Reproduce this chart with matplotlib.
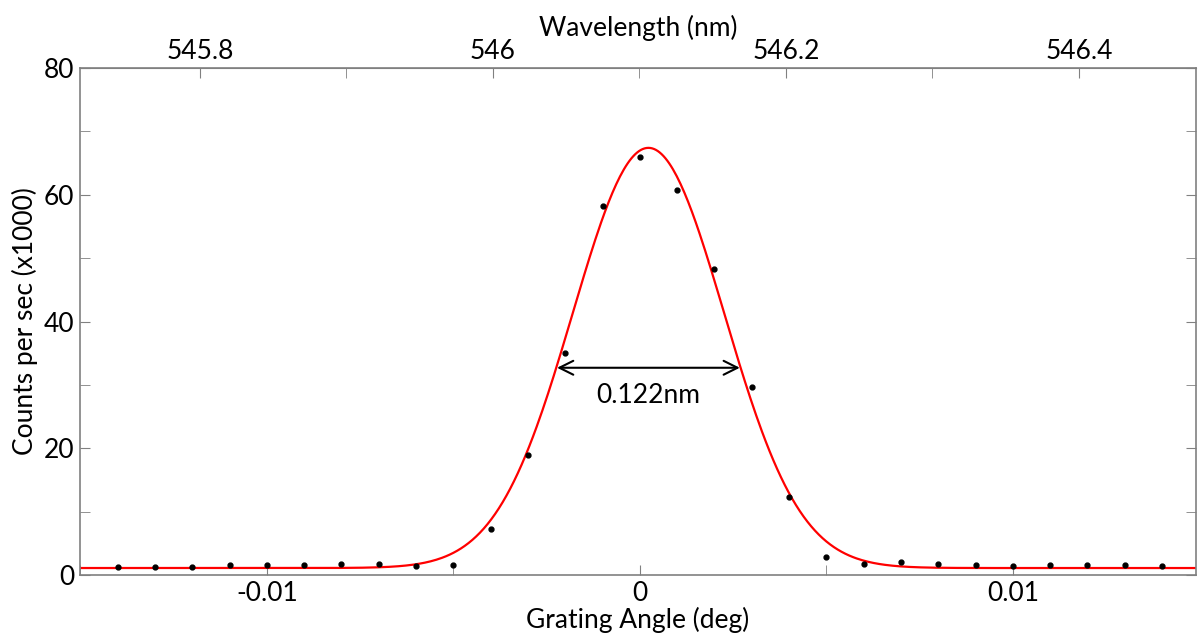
import numpy as np
import matplotlib
matplotlib.use("Agg")
import matplotlib.pyplot as plt
from matplotlib.ticker import FixedLocator, FixedFormatter

# ======================
# data
# ======================
angle = [-0.014, -0.013, -0.012, -0.011, -0.010, -0.009, -0.008, -0.007, -0.006, -0.005,
         -0.004, -0.003, -0.002, -0.001, 0.000, 0.001, 0.002, 0.003, 0.004, 0.005,
         0.006, 0.007, 0.008, 0.009, 0.010, 0.011, 0.012, 0.013, 0.014]
counts = [1.2, 1.2, 1.2, 1.6, 1.6, 1.6, 1.8, 1.8, 1.4, 1.6,
          7.3, 18.9, 35.0, 58.2, 66.0, 60.7, 48.3, 29.7, 12.3, 2.9,
          1.8, 2.0, 1.8, 1.6, 1.4, 1.6, 1.6, 1.6, 1.4]

# gaussian fit parameters
fit_base = 1.1
fit_amp = 66.3
fit_center = 0.00023
fit_sigma = 0.00203

# angle -> wavelength conversion
lambda0 = 546.1003
nm_per_deg = 25.46

x_ticks = [-0.01, 0.0, 0.01]
x_ticklabels = ['-0.01', '0', '0.01']
x_minor = [-0.015, -0.005, 0.005]
y_ticks = [0, 20, 40, 60, 80]
y_minor = [10, 30, 50, 70]
wl_ticks = [545.8, 546.0, 546.2, 546.4]
wl_ticklabels = ['545.8', '546', '546.2', '546.4']
wl_minor = [545.9, 546.1, 546.3]

fwhm_label = "0.122nm"
fwhm_x = [-0.00222, 0.00268]
fwhm_y = 32.7

# ======================
# plot
# ======================
plt.rcParams['font.family'] = ['Lato', 'DejaVu Sans']
fs = 19
tick_col = '#808080'

fig = plt.figure(figsize=(11.98, 6.44), dpi=100)
ax = fig.add_axes([80 / 1198, 1 - 575 / 644, 1116 / 1198, 507 / 644])

xs = np.linspace(-0.0152, 0.0152, 600)
fit = fit_base + fit_amp * np.exp(-(xs - fit_center) ** 2 / (2 * fit_sigma ** 2))
ax.plot(xs, fit, color='#ff0000', lw=1.6, zorder=2)
ax.plot(angle, counts, 'o', color='black', ms=3.5, zorder=3)

ax.annotate('', xy=(fwhm_x[0], fwhm_y), xytext=(fwhm_x[1], fwhm_y),
            arrowprops=dict(arrowstyle='<->,head_length=1.0,head_width=0.5',
                            color='black', lw=1.5, shrinkA=0, shrinkB=0))
ax.text(np.mean(fwhm_x), fwhm_y - 4.3, fwhm_label, ha='center', va='center', fontsize=fs)

ax.set_xlim(-0.01501, 0.01491)
ax.set_ylim(0, 80)

ax.xaxis.set_major_locator(FixedLocator(x_ticks))
ax.xaxis.set_major_formatter(FixedFormatter(x_ticklabels))
ax.xaxis.set_minor_locator(FixedLocator(x_minor))
ax.yaxis.set_major_locator(FixedLocator(y_ticks))
ax.yaxis.set_minor_locator(FixedLocator(y_minor))
ax.tick_params(which='both', direction='in', length=7, color=tick_col,
               labelsize=fs, right=True, pad=4)

sec = ax.secondary_xaxis('top', functions=(lambda a: lambda0 + nm_per_deg * a,
                                           lambda w: (w - lambda0) / nm_per_deg))
sec.xaxis.set_major_locator(FixedLocator(wl_ticks))
sec.xaxis.set_major_formatter(FixedFormatter(wl_ticklabels))
sec.xaxis.set_minor_locator(FixedLocator(wl_minor))
sec.tick_params(which='both', direction='in', length=7, color=tick_col,
                labelsize=fs, pad=3)
sec.spines['top'].set_color(tick_col)
sec.set_xlabel('Wavelength (nm)', fontsize=fs, labelpad=2)

for s in ax.spines.values():
    s.set_color(tick_col)
    s.set_linewidth(1.2)

ax.set_xlabel('Grating Angle (deg)', fontsize=fs, labelpad=1)
ax.set_ylabel('Counts per sec (x1000)', fontsize=fs, labelpad=4)

fig.savefig('out.png', dpi=100)
